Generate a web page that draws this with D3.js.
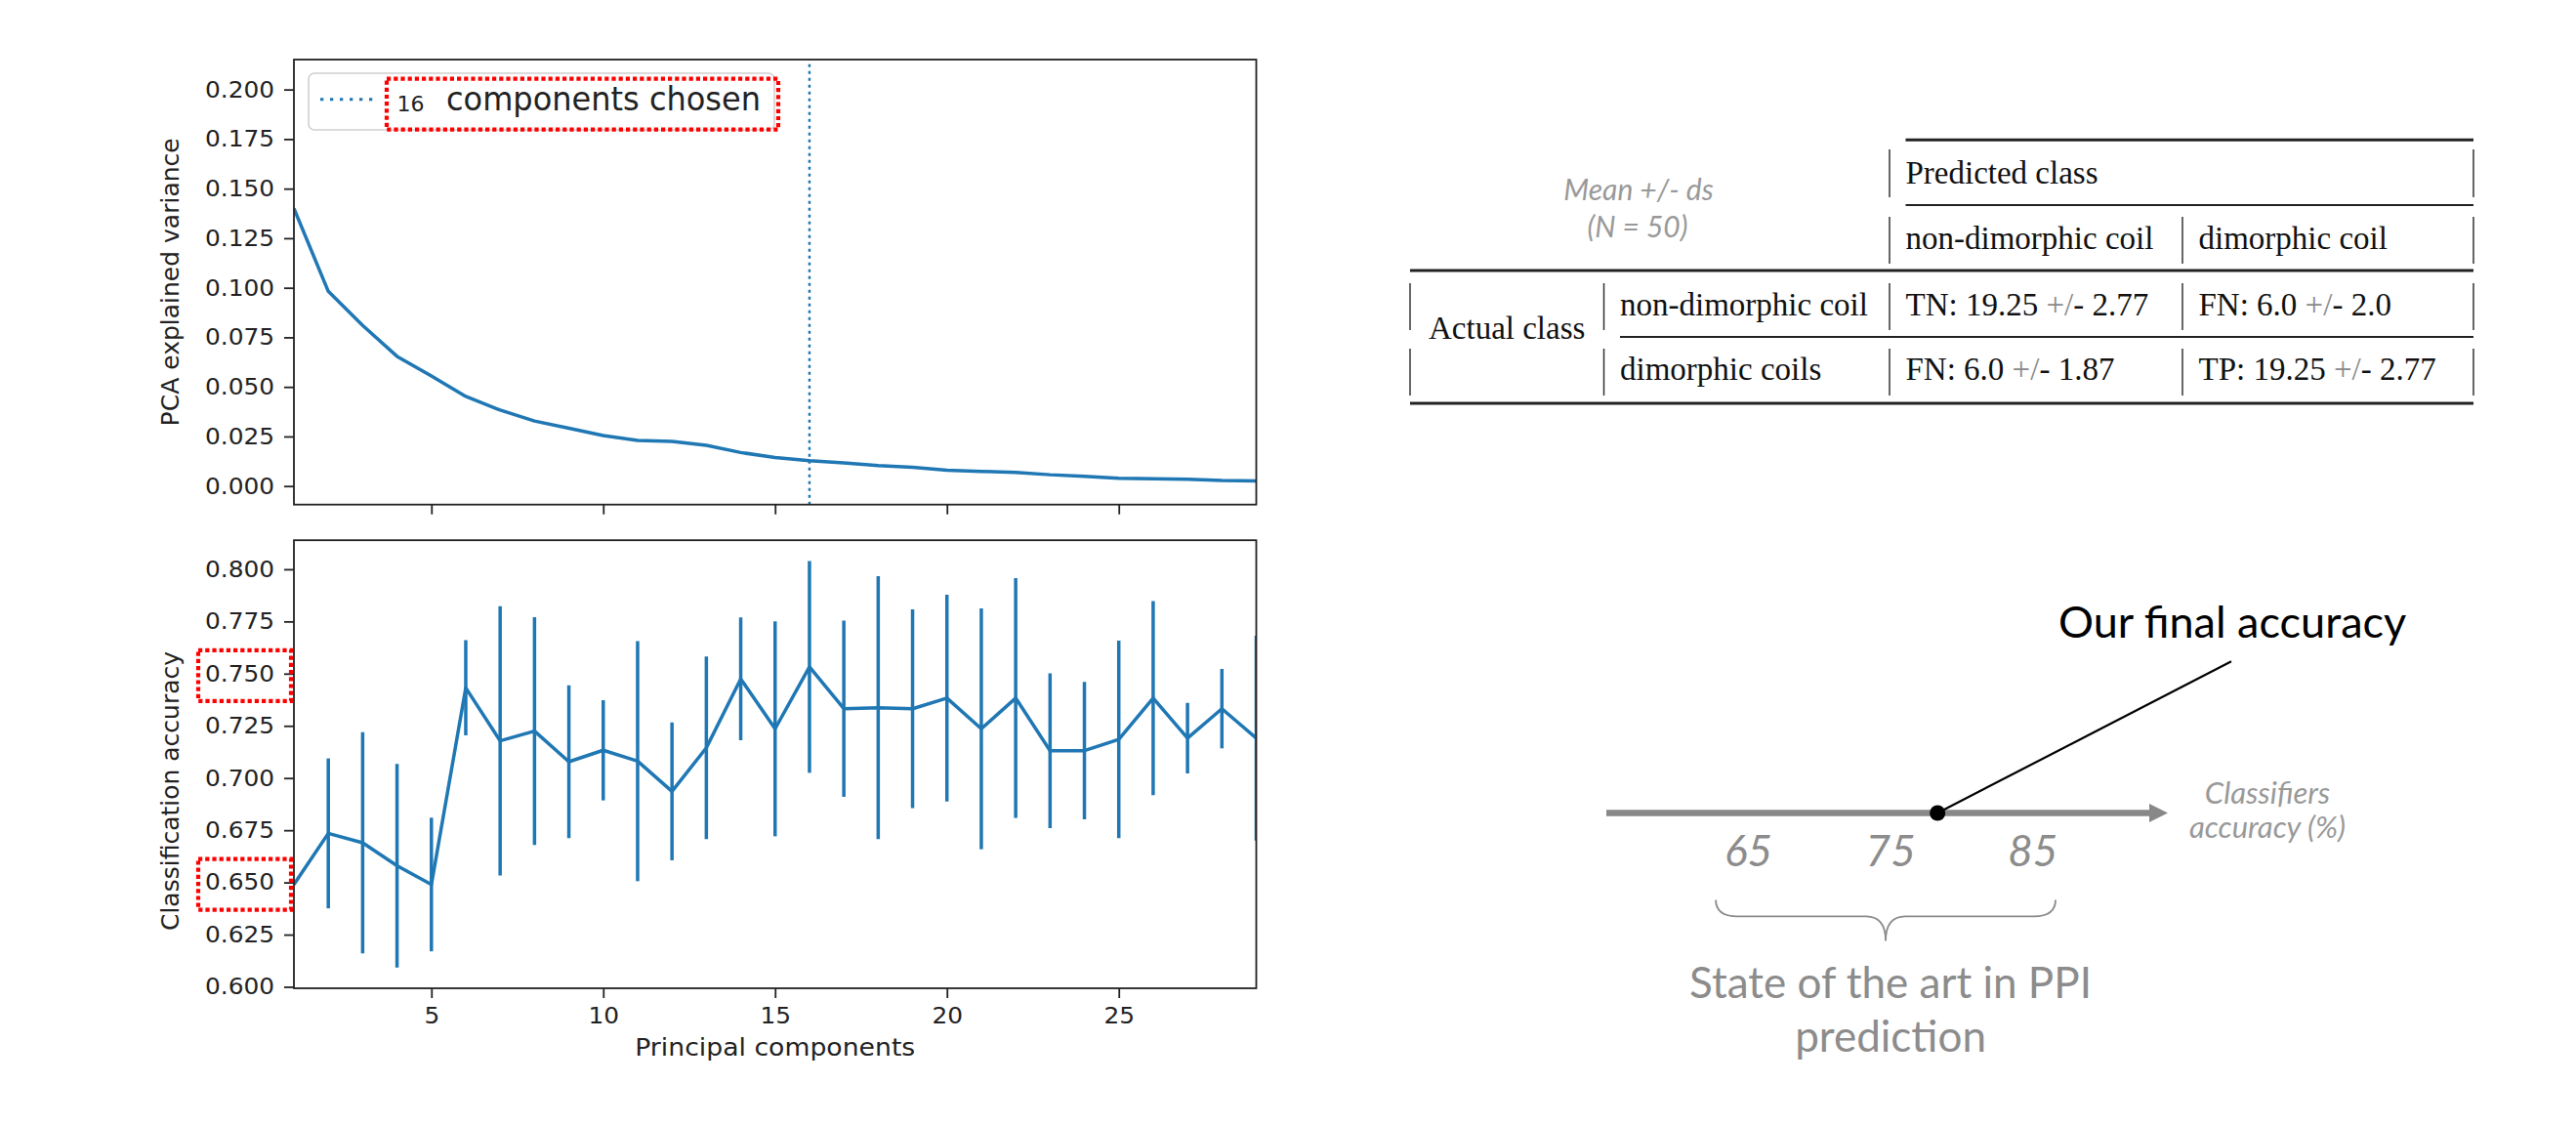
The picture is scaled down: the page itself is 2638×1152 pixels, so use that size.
<!DOCTYPE html>
<html>
<head>
<meta charset="utf-8">
<script src="https://cdnjs.cloudflare.com/ajax/libs/d3/7.8.5/d3.min.js"></script>
<style>
body { margin: 0; background: #ffffff; }
svg { display: block; }
</style>
</head>
<body>
<div id="chart"></div>
<script>
// data
var components = [1, 2, 3, 4, 5, 6, 7, 8, 9, 10, 11, 12, 13, 14, 15, 16, 17, 18, 19, 20, 21, 22, 23, 24, 25, 26, 27, 28, 29];
var variance = [0.140, 0.0982, 0.081, 0.0654, 0.0555, 0.0452, 0.0383, 0.0328, 0.0292, 0.0255, 0.0230, 0.0225, 0.0205, 0.0169, 0.0144,
                0.0128, 0.0117, 0.0103, 0.0095, 0.0080, 0.0074, 0.0069, 0.0057, 0.0049, 0.0039, 0.0037, 0.0034, 0.0028, 0.0026];
var accuracy = [0.649, 0.6735, 0.669, 0.658, 0.649, 0.7432, 0.7178, 0.7225, 0.7078, 0.7133, 0.7081, 0.6936, 0.7145, 0.7475, 0.7236,
                0.7532, 0.7332, 0.7337, 0.7332, 0.7383, 0.7236, 0.7383, 0.7131, 0.7131, 0.7185, 0.7383, 0.7191, 0.7332, 0.7191];
var accuracyErr = [null, 0.0359, 0.053, 0.0488, 0.032, 0.0228, 0.0645, 0.0546, 0.0366, 0.024, 0.0575, 0.033, 0.0437, 0.0294, 0.0515,
                   0.0507, 0.0422, 0.063, 0.0476, 0.0495, 0.0577, 0.0574, 0.0371, 0.0329, 0.0473, 0.0465, 0.0169, 0.019, 0.049];
var chosen = 16;
var compTicks = [5, 10, 15, 20, 25];
var varTicks = [0, 0.025, 0.05, 0.075, 0.1, 0.125, 0.15, 0.175, 0.2];
var accTicks = [0.6, 0.625, 0.65, 0.675, 0.7, 0.725, 0.75, 0.775, 0.8];
var markedTicks = [0.75, 0.65];

// confusion table
var colHeads = ["non-dimorphic coil", "dimorphic coil"];
var rowHeads = ["non-dimorphic coil", "dimorphic coils"];
var cells = [["TN: 19.25 +/- 2.77", "FN: 6.0 +/- 2.0"],
             ["FN: 6.0 +/- 1.87", "TP: 19.25 +/- 2.77"]];

// state of the art line
var artTicks = [65, 75, 85];
var artRange = [62.7, 86.6];
var finalAccuracy = 78.3;

var W = 2638, H = 1152;
var plotFont = "DejaVu Sans";
var blue = "#1f77b4";
var ink = "#222222";
var grey = "#8c8c8c";

var svg = d3.select("#chart")
    .append("svg")
    .attr("width", W)
    .attr("height", H);

var x = d3.scaleLinear().domain([1, 29]).range([301, 1286.5]);
var yVar = d3.scaleLinear().domain([-0.00936, 0.2151]).range([516.7, 61]);
var yAcc = d3.scaleLinear().domain([0.5993, 0.8139]).range([1012, 553.2]);

var defs = svg.append("defs");
defs.append("clipPath").attr("id", "clipTop").append("rect")
    .attr("x", x.range()[0]).attr("y", yVar.range()[1])
    .attr("width", x.range()[1] - x.range()[0]).attr("height", yVar.range()[0] - yVar.range()[1]);
defs.append("clipPath").attr("id", "clipBot").append("rect")
    .attr("x", x.range()[0]).attr("y", yAcc.range()[1])
    .attr("width", x.range()[1] - x.range()[0]).attr("height", yAcc.range()[0] - yAcc.range()[1]);

function styleAxis(g) {
    g.select(".domain").remove();
    g.selectAll(".tick line").attr("stroke", ink).attr("stroke-width", 1.8);
    g.selectAll(".tick text")
        .attr("fill", ink)
        .style("font-family", plotFont)
        .style("font-size", "23px")
        .attr("transform", "scale(1.08,1)");
}

function frame(y) {
    svg.append("rect")
        .attr("x", x.range()[0])
        .attr("y", y.range()[1])
        .attr("width", x.range()[1] - x.range()[0])
        .attr("height", y.range()[0] - y.range()[1])
        .attr("fill", "none")
        .attr("stroke", ink)
        .attr("stroke-width", 1.8);
}

function redBox(x0, y0, w, h) {
    svg.append("rect")
        .attr("x", x0).attr("y", y0)
        .attr("width", w).attr("height", h)
        .attr("fill", "none")
        .attr("stroke", "#ff0000")
        .attr("stroke-width", 4.2)
        .style("stroke-dasharray", "4.2,3");
}

// ---------- top plot: explained variance
var gTop = svg.append("g").attr("clip-path", "url(#clipTop)");

gTop.append("path")
    .datum(components)
    .attr("d", d3.line()
        .x(function(d) { return x(d); })
        .y(function(d, i) { return yVar(variance[i]); }))
    .attr("fill", "none")
    .attr("stroke", blue)
    .attr("stroke-width", 3.5)
    .attr("stroke-linejoin", "round");

gTop.append("line")
    .attr("x1", x(chosen)).attr("x2", x(chosen))
    .attr("y1", yVar.range()[0]).attr("y2", yVar.range()[1])
    .attr("stroke", blue)
    .attr("stroke-width", 2.5)
    .style("stroke-dasharray", "3,4");

frame(yVar);

svg.append("g")
    .attr("transform", "translate(0," + yVar.range()[0] + ")")
    .call(d3.axisBottom(x).tickValues(compTicks).tickFormat("").tickSizeInner(10).tickSizeOuter(0))
    .call(styleAxis);

svg.append("g")
    .attr("transform", "translate(" + x.range()[0] + ",0)")
    .call(d3.axisLeft(yVar).tickValues(varTicks).tickFormat(d3.format(".3f")).tickSizeInner(10).tickSizeOuter(0).tickPadding(8.5))
    .call(styleAxis);

svg.append("text")
    .attr("transform", "translate(183," + d3.mean(yVar.range()) + ") rotate(-90)")
    .attr("text-anchor", "middle")
    .style("font-family", plotFont)
    .style("font-size", "25px")
    .attr("fill", ink)
    .text("PCA explained variance");

// legend
svg.append("rect")
    .attr("x", 316).attr("y", 75)
    .attr("width", 477).attr("height", 58)
    .attr("rx", 6)
    .attr("fill", "#ffffff")
    .attr("fill-opacity", 0.8)
    .attr("stroke", "#d0d0d0")
    .attr("stroke-width", 1.6);
svg.append("line")
    .attr("x1", 328).attr("x2", 384)
    .attr("y1", 101.7).attr("y2", 101.7)
    .attr("stroke", blue)
    .attr("stroke-width", 3)
    .style("stroke-dasharray", "3.3,6.7");
svg.append("text")
    .attr("x", 406.5).attr("y", 114)
    .style("font-family", plotFont)
    .style("font-size", "22px")
    .attr("fill", ink)
    .text(chosen);
svg.append("text")
    .attr("x", 457).attr("y", 113.3)
    .style("font-family", plotFont)
    .style("font-size", "33px")
    .attr("textLength", 322)
    .attr("lengthAdjust", "spacingAndGlyphs")
    .attr("fill", ink)
    .text("components chosen");
redBox(396, 80.7, 401, 52);

// ---------- bottom plot: classification accuracy
var gBot = svg.append("g").attr("clip-path", "url(#clipBot)");

gBot.selectAll("line.err")
    .data(components.filter(function(d, i) { return accuracyErr[i] != null; }))
    .enter()
    .append("line")
    .attr("class", "err")
    .attr("x1", function(d) { return x(d); })
    .attr("x2", function(d) { return x(d); })
    .attr("y1", function(d) { return yAcc(accuracy[d - 1] - accuracyErr[d - 1]); })
    .attr("y2", function(d) { return yAcc(accuracy[d - 1] + accuracyErr[d - 1]); })
    .attr("stroke", blue)
    .attr("stroke-width", 3.5);

gBot.append("path")
    .datum(components)
    .attr("d", d3.line()
        .x(function(d) { return x(d); })
        .y(function(d, i) { return yAcc(accuracy[i]); }))
    .attr("fill", "none")
    .attr("stroke", blue)
    .attr("stroke-width", 3.5)
    .attr("stroke-linejoin", "round");

frame(yAcc);

svg.append("g")
    .attr("transform", "translate(0," + yAcc.range()[0] + ")")
    .call(d3.axisBottom(x).tickValues(compTicks).tickFormat(d3.format("d")).tickSizeInner(10).tickSizeOuter(0).tickPadding(10))
    .call(styleAxis);

svg.append("g")
    .attr("transform", "translate(" + x.range()[0] + ",0)")
    .call(d3.axisLeft(yAcc).tickValues(accTicks).tickFormat(d3.format(".3f")).tickSizeInner(10).tickSizeOuter(0).tickPadding(8.5))
    .call(styleAxis);

svg.append("text")
    .attr("transform", "translate(183,810) rotate(-90)")
    .attr("text-anchor", "middle")
    .style("font-family", plotFont)
    .style("font-size", "25px")
    .attr("fill", ink)
    .text("Classification accuracy");

svg.append("text")
    .attr("x", d3.mean(x.range()))
    .attr("y", 1081)
    .attr("text-anchor", "middle")
    .style("font-family", plotFont)
    .style("font-size", "24px")
    .attr("textLength", 287)
    .attr("lengthAdjust", "spacingAndGlyphs")
    .attr("fill", ink)
    .text("Principal components");

markedTicks.forEach(function(v) {
    redBox(x.range()[0] - 98, yAcc(v) - 24, 95, 52);
});

// ---------- confusion table
var tFont = "Liberation Serif";
var colBar = [1444, 1642.5, 1935, 2235, 2533];
var tx = colBar.map(function(c) { return c + 16.5; });

function rule(x1, x2, y, w) {
    svg.append("line")
        .attr("x1", x1).attr("x2", x2)
        .attr("y1", y).attr("y2", y)
        .attr("stroke", ink)
        .attr("stroke-width", w);
}
function bars(xs, y1, y2) {
    xs.forEach(function(xp) {
        svg.append("line")
            .attr("x1", xp).attr("x2", xp)
            .attr("y1", y1).attr("y2", y2)
            .attr("stroke", "#333")
            .attr("stroke-width", 1.5);
    });
}
function cellText(xp, y, str) {
    var t = svg.append("text")
        .attr("x", xp).attr("y", y)
        .style("font-family", tFont)
        .style("font-size", "33px")
        .attr("fill", "#111");
    var k = str.indexOf("+/");
    if (k < 0) { t.text(str); return; }
    t.append("tspan").text(str.slice(0, k));
    t.append("tspan").attr("fill", "#8a8a8a").text("+/");
    t.append("tspan").text(str.slice(k + 2));
}

rule(tx[2], colBar[4], 143.3, 3);
rule(tx[2], colBar[4], 210, 2);
rule(colBar[0], colBar[4], 277, 3);
rule(tx[1], colBar[4], 345, 2);
rule(colBar[0], colBar[4], 413, 3);

bars([colBar[2], colBar[4]], 153, 202);
bars([colBar[2], colBar[3], colBar[4]], 222, 270);
bars(colBar, 290, 338);
bars(colBar, 357, 405);

cellText(tx[2], 188, "Predicted class");
colHeads.forEach(function(h, j) { cellText(tx[2 + j], 255, h); });
var rowY = [323, 389];
rowHeads.forEach(function(h, i) {
    cellText(tx[1], rowY[i], h);
    cells[i].forEach(function(c, j) { cellText(tx[2 + j], rowY[i], c); });
});
cellText(1463, 347, "Actual class");

svg.append("text")
    .attr("x", 1678).attr("y", 205)
    .attr("text-anchor", "middle")
    .style("font-family", "Lato")
    .style("font-style", "italic")
    .style("font-size", "30px")
    .attr("fill", "#999")
    .text("Mean +/- ds");
svg.append("text")
    .attr("x", 1677).attr("y", 243)
    .attr("text-anchor", "middle")
    .style("font-family", "Lato")
    .style("font-style", "italic")
    .style("font-size", "30px")
    .attr("fill", "#999")
    .text("(N = 50)");

// ---------- accuracy comparison line
var a = d3.scaleLinear().domain([55, 94.5]).range([1645, 2220]);
var ay = 832.5;

svg.append("line")
    .attr("x1", a.range()[0]).attr("x2", a.range()[1] - 16)
    .attr("y1", ay).attr("y2", ay)
    .attr("stroke", "#888")
    .attr("stroke-width", 6.5);
svg.append("path")
    .attr("d", "M" + (a.range()[1] - 19) + "," + (ay - 9.5) + "L" + a.range()[1] + "," + ay + "L" + (a.range()[1] - 19) + "," + (ay + 9.5) + "Z")
    .attr("fill", "#888");

svg.selectAll("text.art")
    .data(artTicks)
    .enter()
    .append("text")
    .attr("class", "art")
    .attr("x", function(d) { return a(d); })
    .attr("y", 887)
    .attr("text-anchor", "middle")
    .style("font-family", "Lato")
    .style("font-style", "italic")
    .style("font-size", "44px")
    .attr("fill", grey)
    .text(function(d) { return d; });

// brace under the state of the art range
var b0 = a(artRange[0]), b1 = a(artRange[1]), bc = (b0 + b1) / 2;
var bt = 921.5, bm = 938.3, bb = 963.5;
svg.append("path")
    .attr("d", "M" + b0 + "," + bt + "Q" + b0 + "," + bm + " " + (b0 + 22) + "," + bm +
               "L" + (bc - 20) + "," + bm + "Q" + bc + "," + bm + " " + bc + "," + bb +
               "Q" + bc + "," + bm + " " + (bc + 20) + "," + bm +
               "L" + (b1 - 22) + "," + bm + "Q" + b1 + "," + bm + " " + b1 + "," + bt)
    .attr("fill", "none")
    .attr("stroke", "#8c8c8c")
    .attr("stroke-width", 1.8);

svg.append("text")
    .attr("x", bc + 5).attr("y", 1021.7)
    .attr("text-anchor", "middle")
    .style("font-family", "Lato")
    .style("font-size", "44px")
    .attr("fill", grey)
    .text("State of the art in PPI");
svg.append("text")
    .attr("x", bc + 5).attr("y", 1077)
    .attr("text-anchor", "middle")
    .style("font-family", "Lato")
    .style("font-size", "44px")
    .attr("fill", grey)
    .text("prediction");

svg.append("text")
    .attr("x", 2322).attr("y", 823.3)
    .attr("text-anchor", "middle")
    .style("font-family", "Lato")
    .style("font-style", "italic")
    .style("font-size", "31px")
    .attr("fill", "#999")
    .text("Classifiers");
svg.append("text")
    .attr("x", 2322).attr("y", 858)
    .attr("text-anchor", "middle")
    .style("font-family", "Lato")
    .style("font-style", "italic")
    .style("font-size", "31px")
    .attr("fill", "#999")
    .text("accuracy (%)");

// our result
svg.append("line")
    .attr("x1", a(finalAccuracy)).attr("y1", ay)
    .attr("x2", 2285).attr("y2", 677.3)
    .attr("stroke", "#000")
    .attr("stroke-width", 2.2);
svg.append("circle")
    .attr("cx", a(finalAccuracy)).attr("cy", ay)
    .attr("r", 8)
    .attr("fill", "#000");
svg.append("text")
    .attr("x", 2108).attr("y", 653.3)
    .style("font-family", "Lato")
    .style("font-size", "45px")
    .attr("fill", "#000")
    .text("Our final accuracy");
</script>
</body>
</html>
